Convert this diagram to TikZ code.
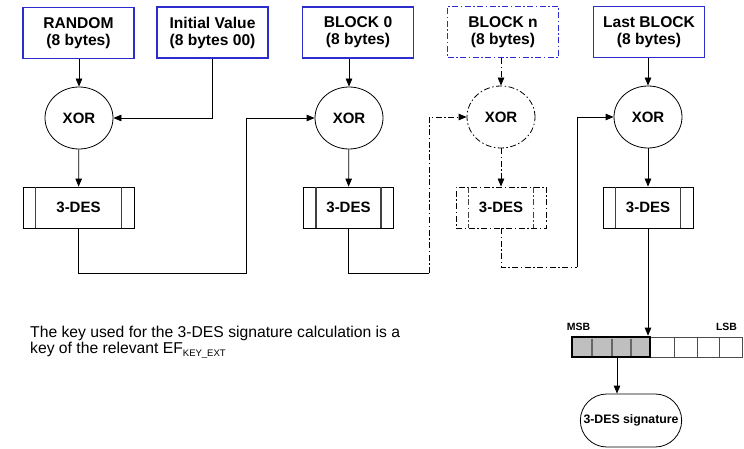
\documentclass[tikz,border=0pt]{standalone}
\usepackage{fontspec}
\setmainfont{Liberation Sans}
\usetikzlibrary{arrows.meta,shapes.geometric,shapes.misc}
\definecolor{myblue}{RGB}{45,45,205}
\begin{document}
\begin{tikzpicture}[x=1pt,y=-1pt,
  lbl/.style={font=\bfseries\fontsize{15}{17}\selectfont},
  inbox/.style={font=\bfseries\fontsize{15.6}{17}\selectfont,draw=myblue,line width=1.8pt,minimum width=111pt,minimum height=51pt,align=center,inner sep=0pt},
  xornode/.style={lbl,ellipse,draw,line width=0.8pt,minimum width=68pt,minimum height=62pt,inner sep=0pt},
  desbox/.style={lbl,draw,line width=0.8pt,minimum width=90pt,minimum height=41pt,inner sep=0pt},
  bar/.style={line width=1.3pt,draw=black!75},
  wire/.style={line width=0.8pt},
  conn/.style={wire,-{Triangle[length=8pt,width=6.5pt]}},
  dd/.style={dash pattern=on 6pt off 2.5pt on 1.5pt off 2.5pt}
]
\useasboundingbox (0,0) rectangle (744,449);
% input boxes
\node[inbox] (r)  at (78.5,33)  {RANDOM\\(8 bytes)};
\node[inbox] (iv) at (212.5,32.5) {Initial Value\\(8 bytes 00)};
\node[inbox] (b0) at (358,32.5) {BLOCK 0\\(8 bytes)};
\node[inbox,dd] (bn) at (503,32) {BLOCK n\\(8 bytes)};
\node[inbox] (bl) at (649,32) {Last BLOCK\\(8 bytes)};
% xor nodes
\node[xornode] (x1) at (79,118) {XOR};
\node[xornode] (x2) at (349,118) {XOR};
\node[xornode,dd] (xn) at (501,117) {XOR};
\node[xornode] (xl) at (648,117) {XOR};
% 3-DES boxes
\node[desbox,minimum width=111pt] (d1) at (78.5,207.5) {3-DES};
\node[desbox] (d2) at (348.5,207.5) {3-DES};
\node[desbox,dd] (dn) at (501,207.5) {3-DES};
\node[desbox] (dl) at (648,207.5) {3-DES};
\foreach \n in {d1,d2,dl}{
  \draw[bar] ([xshift=13pt]\n.north west) -- ([xshift=13pt]\n.south west);
  \draw[bar] ([xshift=-13pt]\n.north east) -- ([xshift=-13pt]\n.south east);
}
\draw[bar,dd] ([xshift=13pt]dn.north west) -- ([xshift=13pt]dn.south west);
\draw[bar,dd] ([xshift=-13pt]dn.north east) -- ([xshift=-13pt]dn.south east);
% connectors
\coordinate (j1) at (246,273);
\coordinate (j2) at (429,273);
\coordinate (j3) at (577,267);
\draw[conn] (r.south -| x1) -- (x1);
\draw[conn] (iv.south) |- (x1);
\draw[conn] (x1) -- (d1);
\draw[conn] (d1.south) |- (j1) |- (x2);
\draw[conn] (b0.south -| x2) -- (x2);
\draw[conn] (x2) -- (d2);
\draw[wire] (d2.south) |- (j2);
\draw[conn,dd] (j2) |- (xn);
\draw[conn,dd] (bn.south -| xn) -- (xn);
\draw[conn,dd] (xn) -- (dn);
\draw[wire,dd] (dn.south) |- (j3);
\draw[conn] (j3) |- (xl);
\draw[conn] (bl.south -| xl) -- (xl);
\draw[conn] (xl) -- (dl);
% register
\node[draw=black!70,line width=0.8pt,minimum width=92pt,minimum height=20pt,inner sep=0pt] (lsb) at (696,347) {};
\foreach \xx in {674,697,719}{
  \draw[line width=0.8pt,black!70] (\xx,337) -- (\xx,357);
}
\node[draw,fill=black!25,line width=2.6pt,minimum width=78pt,minimum height=20pt,inner sep=0pt] (msb) at (611,347) {};
\foreach \xx in {592,612,631}{
  \draw[line width=1.3pt,black!60] (\xx,338.5) -- (\xx,355.5);
}
\node[font=\bfseries\fontsize{10.5}{12}\selectfont] (msbl) at (578.5,327) {MSB};
\node[font=\bfseries\fontsize{10.5}{12}\selectfont] (lsbl) at (726.5,327) {LSB};
\draw[conn] (dl) -- (dl |- msb.north);
% signature
\node[rounded rectangle,draw,line width=0.8pt,minimum width=108pt,minimum height=53pt,font=\bfseries\fontsize{12.3}{15}\selectfont] (sig) at (631,420.5) {3-DES signature};
\draw[conn] ([xshift=6pt]msb.south) -- ([xshift=6pt]msb.south |- sig.north);
% note
\node[anchor=base west,align=left,inner sep=0pt,font=\fontsize{15.7}{14.5}\selectfont] (note) at (30,353)
  {The key used for the 3-DES signature calculation is a\\key of the relevant EF{\fontsize{9.5}{10}\selectfont\raisebox{-3.5pt}{KEY\_EXT}}};
\end{tikzpicture}
\end{document}
